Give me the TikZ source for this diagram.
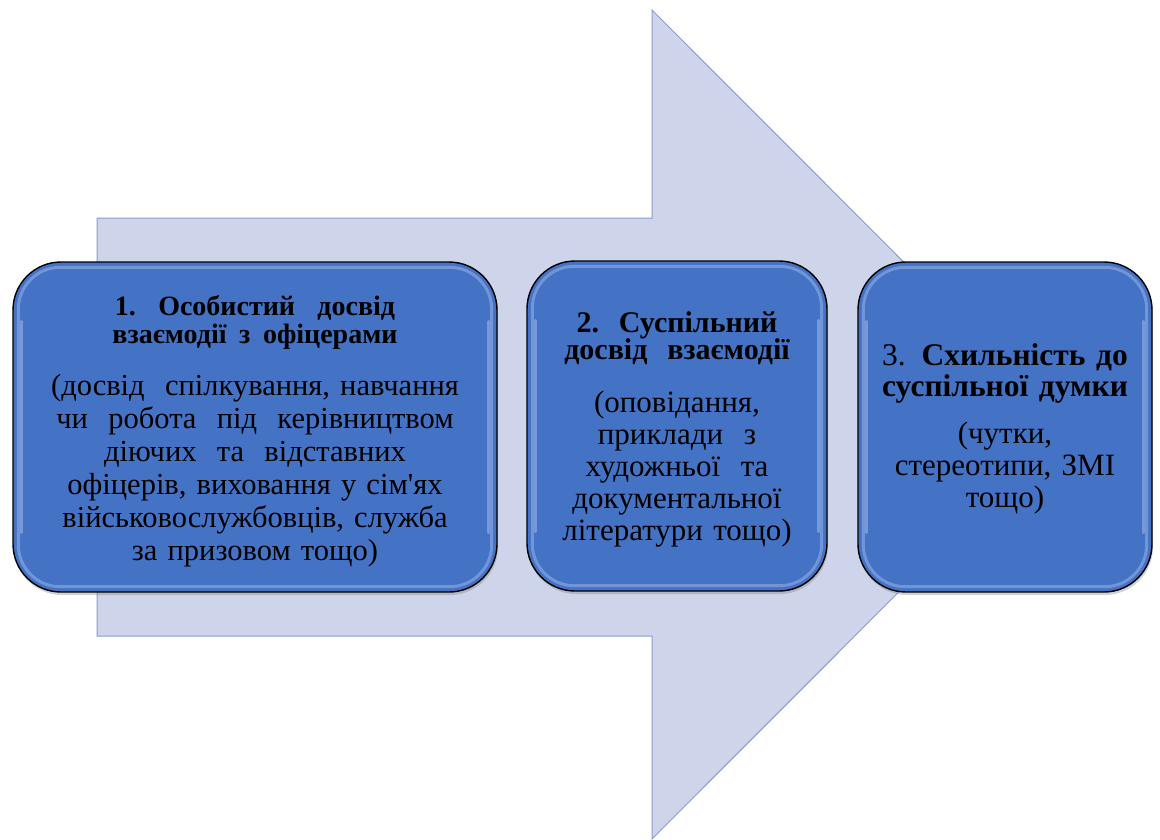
\documentclass[tikz,border=0pt]{standalone}
\usepackage{fontspec}
\setmainfont{Liberation Serif}
\usetikzlibrary{shadows}

\definecolor{arrowfill}{HTML}{CED4E9}
\definecolor{arrowline}{HTML}{8C9CCB}
\definecolor{boxfill}{HTML}{4472C4}
\definecolor{boxshine}{HTML}{A9C1EE}

\tikzset{
  card/.style={draw=black, line width=1.4pt, fill=boxfill,
    rounded corners=48pt, inner sep=0pt,
    drop shadow={shadow xshift=1pt, shadow yshift=-3pt, opacity=.35}},
  shine/.style={draw=boxshine, line width=3pt, draw opacity=.45,
    rounded corners=42pt},
  edgeshine/.style={draw=boxshine, line width=3pt, draw opacity=.5,
    line cap=round},
  ttl/.style={text width=#1, align=center, inner sep=0pt, text=black,
    anchor=base},
  dsc/.style={text width=#1, align=center, inner sep=0pt, text=black,
    anchor=base},
}
\newcommand{\dsp}{\ \ }

\begin{document}
\begin{tikzpicture}[x=1pt, y=-1pt]
\useasboundingbox (0,0) rectangle (1160,839);

% large background arrow
\path[draw=arrowline, fill=arrowfill, line width=1pt]
  (97,218) -- (652,218) -- (652,10) -- (1066,424.5) -- (652,839)
  -- (652,636) -- (97,636) -- cycle;

% three rounded cards
\node[card, minimum width=484pt, minimum height=330pt] (b1) at (255,427) {};
\node[card, minimum width=300pt, minimum height=330pt] (b2) at (677,426) {};
\node[card, minimum width=294pt, minimum height=330pt] (b3) at (1005,427) {};

% bevel highlights: soft inner rim plus brighter side strips
\foreach \b in {b1,b2,b3}{
  \draw[shine] ([shift={(6,6)}]\b.north west) rectangle ([shift={(-6,-6)}]\b.south east);
  \draw[edgeshine] ([shift={(9,60)}]\b.north west) -- ([shift={(9,-60)}]\b.south west);
  \draw[edgeshine] ([shift={(-9,60)}]\b.north east) -- ([shift={(-9,-60)}]\b.south east);
}

% card 1
\node[ttl=470pt, font=\fontsize{28}{28}\selectfont\bfseries] (t1) at (255,315)
  {1.\hspace{0.8em}Особистий\hspace{0.8em}досвід\\
   взаємодії\hspace{0.45em}з\hspace{0.45em}офіцерами};
\node[dsc=470pt, font=\fontsize{30.5}{33}\selectfont] (d1) at (255,395)
  {(досвід\dsp спілкування, навчання\\ чи\dsp робота\dsp під\dsp керівництвом\\
   діючих\dsp та\dsp відставних\\ офіцерів, виховання у сім\textquotesingle ях\\
   військовослужбовців, служба\\ за призовом тощо)};

% card 2
\node[ttl=290pt, font=\fontsize{30}{27.5}\selectfont\bfseries] (t2) at (677,332)
  {2.\dsp Суспільний\\ досвід\dsp взаємодії};
\node[dsc=290pt, font=\fontsize{31}{32}\selectfont] (d2) at (677,412)
  {(оповідання,\\ приклади\dsp з\\ художньої\dsp та\\ документальної\\ літератури тощо)};

% card 3
\node[ttl=284pt, font=\fontsize{31.5}{31}\selectfont\bfseries] (t3) at (1005,365)
  {\textmd{3.} Схильність до\\ суспільної думки};
\node[dsc=284pt, font=\fontsize{31}{32}\selectfont] (d3) at (1005,443)
  {(чутки,\\ стереотипи, ЗМІ\\ тощо)};
\end{tikzpicture}
\end{document}
